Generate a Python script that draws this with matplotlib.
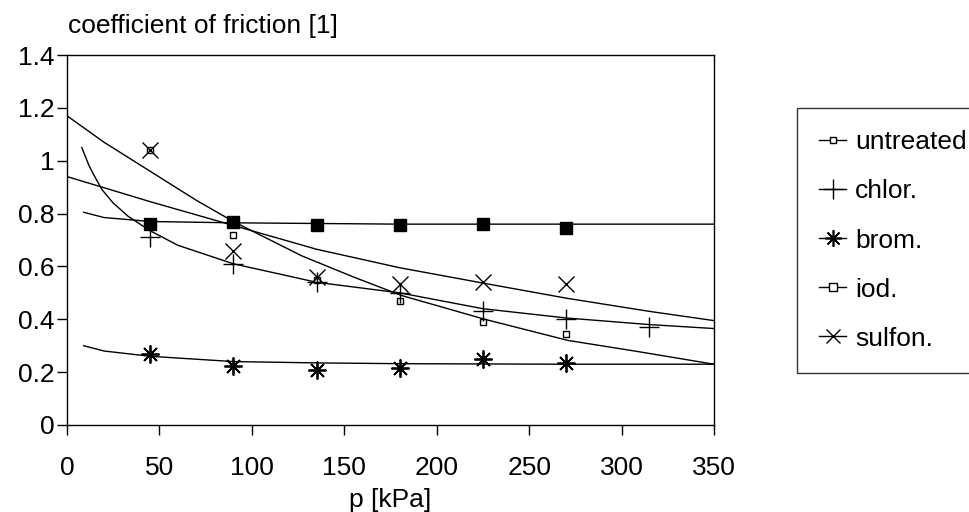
import matplotlib
matplotlib.use('Agg')
import matplotlib.pyplot as plt
from matplotlib.lines import Line2D

plt.rcParams['font.family'] = ['Liberation Sans', 'DejaVu Sans']
plt.rcParams['font.size'] = 19

# measured points, p in kPa
p = [45, 90, 135, 180, 225, 270]
p_chlor = [45, 90, 135, 180, 225, 270, 315]
untreated = [1.04, 0.72, 0.55, 0.47, 0.39, 0.345]
chlor = [0.71, 0.61, 0.54, 0.50, 0.43, 0.40, 0.37]
brom = [0.27, 0.225, 0.21, 0.215, 0.25, 0.235]
iod = [0.76, 0.77, 0.755, 0.755, 0.76, 0.745]
sulfon = [1.04, 0.66, 0.56, 0.535, 0.54, 0.535]

# fitted curves
fit_p_untreated = [0, 20, 45, 70, 90, 127, 155, 181, 226, 271, 307, 350]
fit_untreated = [1.17, 1.07, 0.96, 0.85, 0.77, 0.64, 0.56, 0.49, 0.40, 0.32, 0.28, 0.23]
fit_p_sulfon = [0, 45, 90, 135, 180, 225, 270, 315, 350]
fit_sulfon = [0.94, 0.845, 0.755, 0.665, 0.595, 0.537, 0.48, 0.43, 0.395]
fit_p_chlor = [8, 12, 15, 19, 25, 33, 45, 60, 90, 135, 180, 225, 270, 315, 350]
fit_chlor = [1.05, 0.98, 0.94, 0.89, 0.84, 0.79, 0.735, 0.68, 0.61, 0.54, 0.50, 0.44, 0.405, 0.38, 0.365]
fit_p_iod = [9, 20, 45, 90, 180, 270, 350]
fit_iod = [0.805, 0.785, 0.77, 0.765, 0.76, 0.76, 0.76]
fit_p_brom = [9, 20, 45, 90, 135, 180, 270, 350]
fit_brom = [0.30, 0.28, 0.26, 0.24, 0.235, 0.232, 0.23, 0.23]

labels = ['untreated', 'chlor.', 'brom.', 'iod.', 'sulfon.']

fig = plt.figure(figsize=(9.69, 5.12), dpi=100)
ax = fig.add_axes([67 / 969, 87 / 512, 647 / 969, 370 / 512])

lw = 1.0
for fx, fy in [(fit_p_untreated, fit_untreated), (fit_p_sulfon, fit_sulfon),
               (fit_p_chlor, fit_chlor), (fit_p_iod, fit_iod), (fit_p_brom, fit_brom)]:
    ax.plot(fx, fy, color='black', lw=lw)

# markers
ax.plot(p, untreated, ls='none', marker='s', ms=4, mfc='white', mec='black', mew=1)
ax.plot(p_chlor, chlor, ls='none', marker='+', ms=14, color='black', mew=1)
ax.plot(p, brom, ls='none', marker=(8, 2, 0), ms=13, color='black', mew=1.3)
ax.plot(p, iod, ls='none', marker='s', ms=8, color='black')
ax.plot(p, sulfon, ls='none', marker='x', ms=12, color='black', mew=1)

ax.set_xlim(0, 350)
ax.set_ylim(0, 1.4)
ax.set_xticks(range(0, 351, 50))
ax.set_yticks([0, 0.2, 0.4, 0.6, 0.8, 1, 1.2, 1.4])
ax.set_yticklabels(['0', '0.2', '0.4', '0.6', '0.8', '1', '1.2', '1.4'])
ax.tick_params(direction='out', length=7, width=1, pad=2)
ax.tick_params(axis='x', pad=15)
for s in ax.spines.values():
    s.set_linewidth(1)

ax.set_xlabel('p [kPa]', labelpad=6)
fig.text(68 / 969, 1 - 26 / 512, 'coefficient of friction [1]', ha='left', va='center')

handles = [
    Line2D([], [], color='black', lw=lw, marker='s', ms=4, mfc='white', mec='black'),
    Line2D([], [], color='black', lw=lw, marker='+', ms=14),
    Line2D([], [], color='black', lw=lw, marker=(8, 2, 0), ms=12, mew=1.2),
    Line2D([], [], color='black', lw=lw, marker='s', ms=6, mfc='white', mec='black'),
    Line2D([], [], color='black', lw=lw, marker='x', ms=10),
]
leg = fig.legend(handles, labels, loc='upper left',
                 bbox_to_anchor=(797 / 969, 1 - 108 / 512, 0.3, 0),
                 mode='expand', borderaxespad=0, frameon=True, fancybox=False,
                 edgecolor='black', handlelength=1.0, handletextpad=0.35,
                 labelspacing=0.95, borderpad=0.85, fontsize=19)
leg.get_frame().set_linewidth(1)

fig.savefig('out.png', dpi=100)
